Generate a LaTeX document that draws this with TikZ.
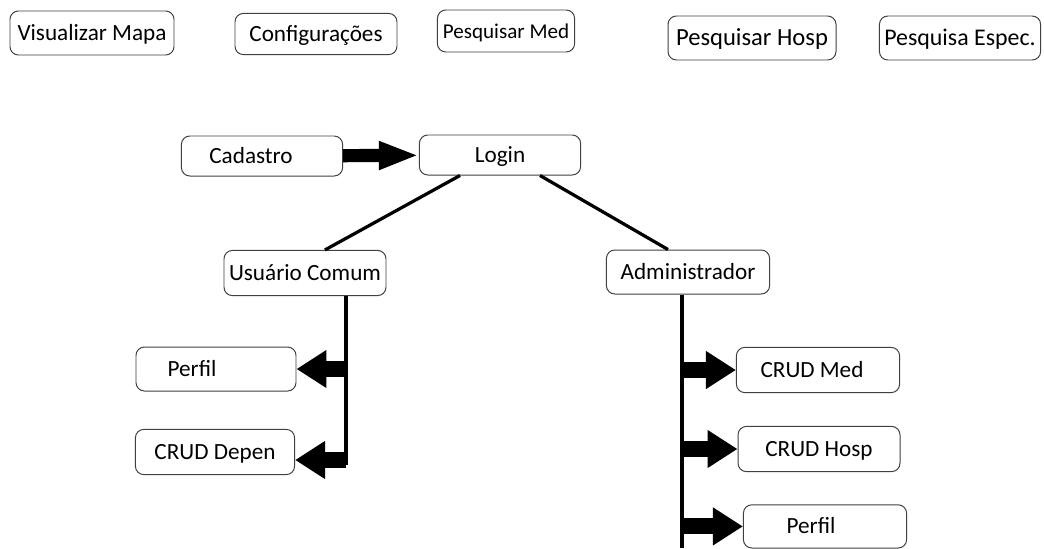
\documentclass[tikz,border=0pt]{standalone}
\usepackage{fontspec}
\setmainfont{Carlito}
\usetikzlibrary{arrows.meta, positioning}

\begin{document}
\begin{tikzpicture}[>=Stealth,
    box/.style={draw=black!75, line width=0.7pt, rounded corners=6pt, fill=white,
        minimum width=4cm, minimum height=1.1cm, inner sep=0pt,
        text height=13pt, text depth=2.5pt,
        font=\fontsize{16.5}{19}\selectfont},
    link/.style={line width=2.3pt},
    bigarrow/.style={line width=0.4cm, -{Triangle[length=0.75cm, width=0.9cm]}}]
    \useasboundingbox (0,0) rectangle (26.1,-13.7);
    % menu at the top
    \node[box, minimum width=4.1cm] (vis) at (2.3,-0.825) {Visualizar Mapa};
    \node[box, minimum width=4.05cm, minimum height=1.03cm] (conf) at (7.9,-0.85) {Configurações};
    \node[box, minimum width=3.43cm, minimum height=1.05cm, font=\fontsize{15}{18}\selectfont] (pmed) at (12.65,-0.775) {Pesquisar Med};
    \node[box, minimum width=4.2cm, font=\fontsize{17.5}{20}\selectfont] (phosp) at (18.8,-0.95) {Pesquisar Hosp};
    \node[box, minimum width=4.03cm, font=\fontsize{17}{20}\selectfont] (pesp) at (24.0,-0.95) {Pesquisa Espec.};
    % login
    \node[box, minimum width=4.03cm, minimum height=1cm] (cad) at (6.55,-3.9) {Cadastro\hspace*{0.55cm}};
    \node[box, minimum width=4.03cm, minimum height=1cm] (login) at (12.5,-3.875) {Login};
    \node[box, minimum width=4.05cm, minimum height=1.13cm] (usu) at (7.625,-6.825) {Usuário Comum};
    \node[box, minimum width=4.08cm] (admin) at (17.2,-6.8) {Administrador};
    % usuario comum
    \node[box] (perfilA) at (5.4,-9.225) {Perfil\hspace*{1.2cm}};
    \node[box, minimum width=3.98cm, minimum height=1.13cm] (depen) at (5.375,-11.3) {CRUD Depen};
    % administrador
    \node[box, minimum width=4.08cm, minimum height=1.13cm] (med) at (20.45,-9.25) {CRUD Med\hspace*{0.3cm}};
    \node[box, minimum width=4.05cm, minimum height=1.13cm] (hosp) at (20.475,-11.225) {CRUD Hosp};
    \node[box, minimum width=4.08cm, minimum height=1.08cm] (perfilB) at (20.625,-13.16) {Perfil\hspace*{0.7cm}};
    \coordinate (lend) at (8.65,-11.625);
    \coordinate (rend) at (17.05,-13.7);
    \draw[line width=0.33cm, -{Triangle[length=1cm, width=0.65cm]}] (cad) -- (login);
    \draw[link] ([xshift=-1cm]login.south) -- ([xshift=0.5cm]usu.north);
    \draw[link] ([xshift=1cm]login.south) -- ([xshift=-0.5cm]admin.north);
    \draw[link] (usu.south -| lend) -- (lend);
    \draw[link] (admin.south -| rend) -- (rend);
    \draw[bigarrow] (lend |- perfilA.east) -- (perfilA.east);
    \draw[bigarrow] ([yshift=-0.2cm]depen.east -| lend) -- ([yshift=-0.2cm]depen.east);
    \draw[bigarrow] (rend |- med.west) -- (med.west);
    \draw[bigarrow] (rend |- hosp.west) -- (hosp.west);
    \draw[bigarrow] (rend |- perfilB.west) -- (perfilB.west);
\end{tikzpicture}
\end{document}
